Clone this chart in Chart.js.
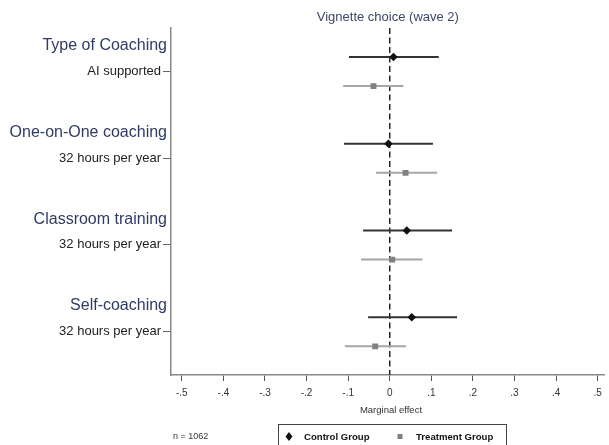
<!DOCTYPE html>
<html><head><meta charset="utf-8">
<script src="https://cdn.jsdelivr.net/npm/chart.js@4/dist/chart.umd.min.js"></script>
<style>html,body{margin:0;padding:0;background:#fff}#wrap{width:609px;height:445px;position:relative}</style>
</head><body><div id="wrap"><canvas id="c"></canvas></div>
<script>
// ---- data ----
const chartTitle = "Vignette choice (wave 2)";
const groupHeaders = ["Type of Coaching", "One-on-One coaching", "Classroom training", "Self-coaching"];
const levelLabels = ["AI supported", "32 hours per year", "32 hours per year", "32 hours per year"];
const controlEst = [0.009, -0.003, 0.041, 0.053];
const controlLo  = [-0.098, -0.110, -0.064, -0.052];
const controlHi  = [0.118, 0.104, 0.150, 0.162];
const treatEst   = [-0.039, 0.038, 0.006, -0.035];
const treatLo    = [-0.112, -0.033, -0.069, -0.108];
const treatHi    = [0.033, 0.114, 0.079, 0.039];
const xTicks = [-0.5, -0.4, -0.3, -0.2, -0.1, 0, 0.1, 0.2, 0.3, 0.4, 0.5];
const xTickLabels = ["-.5", "-.4", "-.3", "-.2", "-.1", "0", ".1", ".2", ".3", ".4", ".5"];
const seriesNames = ["Control Group", "Treatment Group"];
const xAxisTitle = "Marginal effect";
const sampleNote = "n = 1062";

// ---- styling / layout ----
const FONT = "'Liberation Sans', Arial, Helvetica, sans-serif";
const CTRL_COLOR = "#111111", CTRL_LINE = "#333333";
const TREAT_COLOR = "#808080", TREAT_LINE = "#a6a6a6";
const CTRL_OFF = -0.165, TREAT_OFF = 0.17;

const datasets = [];
datasets.push({
  label: seriesNames[0], type: 'scatter',
  data: controlEst.map((v, i) => ({x: v, y: i + CTRL_OFF})),
  pointStyle: 'rectRot', pointRadius: 4.3, backgroundColor: CTRL_COLOR, borderColor: CTRL_COLOR, borderWidth: 0
});
datasets.push({
  label: seriesNames[1], type: 'scatter',
  data: treatEst.map((v, i) => ({x: v, y: i + TREAT_OFF})),
  pointStyle: 'rect', pointRadius: 4.2, backgroundColor: TREAT_COLOR, borderColor: TREAT_COLOR, borderWidth: 0
});
controlEst.forEach((_, i) => datasets.push({
  type: 'line', data: [{x: controlLo[i], y: i + CTRL_OFF}, {x: controlHi[i], y: i + CTRL_OFF}],
  borderColor: CTRL_LINE, borderWidth: 2, pointRadius: 0
}));
treatEst.forEach((_, i) => datasets.push({
  type: 'line', data: [{x: treatLo[i], y: i + TREAT_OFF}, {x: treatHi[i], y: i + TREAT_OFF}],
  borderColor: TREAT_LINE, borderWidth: 2, pointRadius: 0
}));
datasets.push({
  type: 'line', data: [{x: 0, y: -0.5}, {x: 0, y: 3.5}],
  borderColor: '#222', borderWidth: 1.5, borderDash: [6, 3.5], pointRadius: 0
});

const extras = {
  id: 'extras',
  afterDraw(chart) {
    const ctx = chart.ctx, xs = chart.scales.x, ys = chart.scales.y;
    ctx.save();
    // group headers
    ctx.font = "16px " + FONT; ctx.fillStyle = '#2f3b63';
    ctx.textAlign = 'right'; ctx.textBaseline = 'middle';
    groupHeaders.forEach((h, i) => ctx.fillText(h, 167, ys.getPixelForValue(i - 0.295)));
    // x axis title
    ctx.font = "9.5px " + FONT; ctx.fillStyle = '#333'; ctx.textAlign = 'center';
    ctx.fillText(xAxisTitle, xs.getPixelForValue(0.003), 410);
    // sample note
    ctx.font = "9px " + FONT; ctx.textAlign = 'left';
    ctx.fillText(sampleNote, 173, 437);
    // legend box
    ctx.strokeStyle = '#444'; ctx.lineWidth = 1;
    ctx.strokeRect(278.5, 424.5, 228, 30);
    // legend markers
    ctx.fillStyle = CTRL_COLOR;
    ctx.beginPath(); ctx.moveTo(289, 432); ctx.lineTo(292.5, 436.5); ctx.lineTo(289, 441); ctx.lineTo(285.5, 436.5); ctx.closePath(); ctx.fill();
    ctx.fillStyle = TREAT_COLOR; ctx.fillRect(397.5, 434, 5, 5);
    ctx.font = "bold 9.6px " + FONT; ctx.fillStyle = '#111'; ctx.textBaseline = 'middle';
    ctx.fillText(seriesNames[0], 304, 437);
    ctx.fillText(seriesNames[1], 416, 437);
    ctx.restore();
  }
};

new Chart(document.getElementById('c'), {
  data: {datasets},
  options: {
    responsive: true, maintainAspectRatio: false, animation: false,
    layout: {padding: {left: 0, top: 0, bottom: 0, right: -4}},
    plugins: {
      legend: {display: false}, tooltip: {enabled: false},
      title: {display: true, text: chartTitle, fullSize: false, color: '#3b4768',
        font: {size: 13, family: FONT, weight: 'normal'}, padding: {top: 10, bottom: 2.4}}
    },
    scales: {
      x: {
        type: 'linear', min: -0.526, max: 0.517,
        afterBuildTicks: s => { s.ticks = xTicks.map(v => ({value: v})); },
        ticks: {callback: (v, i) => xTickLabels[i], font: {size: 10, family: FONT}, color: '#333', padding: 6, maxRotation: 0, autoSkip: false},
        grid: {drawOnChartArea: false, tickLength: 6, color: '#555'},
        border: {color: '#888', width: 1.5},
        afterFit: s => { s.height = 70; s.paddingLeft = 0; s.paddingRight = 0; }
      },
      y: {
        type: 'linear', reverse: true, min: -0.5, max: 3.5,
        afterBuildTicks: s => { s.ticks = levelLabels.map((_, i) => ({value: i})); },
        ticks: {callback: (v) => levelLabels[Math.round(v)], font: {size: 13, family: FONT}, color: '#222', padding: 2, autoSkip: false},
        grid: {drawOnChartArea: false, tickLength: 8, color: '#666'},
        border: {color: '#888', width: 1.5},
        afterFit: s => { s.width = 171; s.paddingTop = 0; s.paddingBottom = 0; }
      }
    }
  },
  plugins: [extras]
});
</script></body></html>
